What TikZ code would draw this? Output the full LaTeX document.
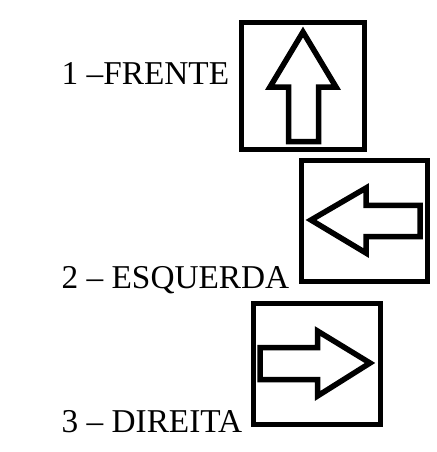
\documentclass[tikz,border=0pt]{standalone}
\usepackage{fontspec}
\setmainfont{Liberation Serif}

\begin{document}
\begin{tikzpicture}[x=1pt, y=-1pt,
    label text/.style={anchor=base west, inner sep=0pt, font=\fontsize{33.3}{40}\selectfont},
    icon box/.style={draw, line width=5pt, inner sep=0pt},
    icon arrow/.style={draw, line width=5.5pt, line join=miter}]
      \useasboundingbox (0, 0) rectangle (436, 452);

      % Labels
      \node[label text] (frente)   at (61.5,  84.5) {1 –FRENTE};
      \node[label text] (esquerda) at (61.5, 288.5) {2 – ESQUERDA};
      \node[label text] (direita)  at (61.5, 432.5) {3 – DIREITA};

      % Boxes
      \node[icon box, minimum width=123pt, minimum height=126pt] (box1) at (302.5, 86) {};
      \node[icon box, minimum width=125.5pt, minimum height=121pt] (box2) at (364.25, 220.5) {};
      \node[icon box, minimum width=127pt, minimum height=121pt] (box3) at (316.5, 363.5) {};

      % Arrow up
      \draw[icon arrow] (303, 32) -- (336, 87) -- (318.5, 87) -- (318.5, 141.5)
            -- (288.5, 141.5) -- (288.5, 87) -- (270, 87) -- cycle;

      % Arrow left
      \draw[icon arrow] (311, 220) -- (366, 188) -- (366, 205.3) -- (420, 205.3)
            -- (420, 236.7) -- (366, 236.7) -- (366, 253) -- cycle;

      % Arrow right
      \draw[icon arrow] (370, 363) -- (317.5, 331) -- (317.5, 347.5) -- (260, 347.5)
            -- (260, 379.5) -- (317.5, 379.5) -- (317.5, 396) -- cycle;
    \end{tikzpicture}
\end{document}
